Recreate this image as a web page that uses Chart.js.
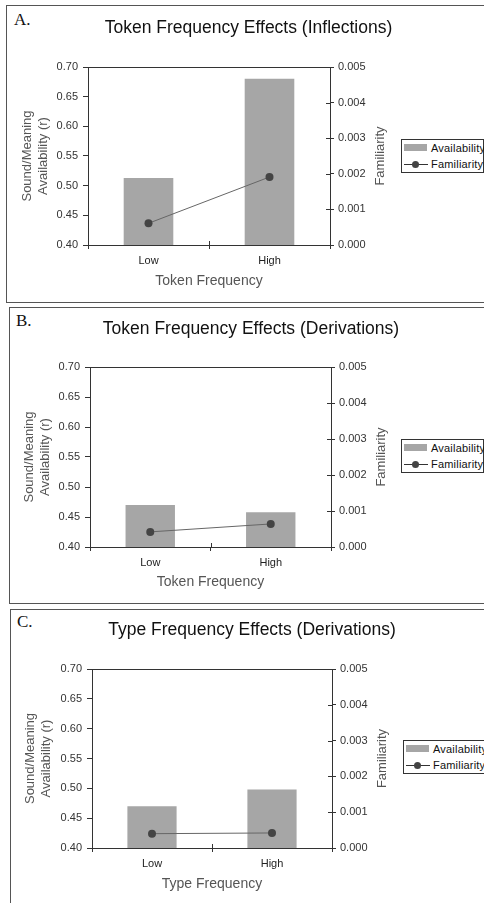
<!DOCTYPE html>
<html>
<head>
<meta charset="utf-8">
<script src="https://cdn.jsdelivr.net/npm/chart.js@4/dist/chart.umd.min.js"></script>
<style>
  body { margin: 0; width: 484px; height: 903px; overflow: hidden; position: relative; background: #fff; font-family: "Liberation Sans", Arial, sans-serif; }
  .panel { position: absolute; border: 1px solid #555; }
  .tag { position: absolute; font-family: "Liberation Serif", "Times New Roman", serif; font-size: 17px; line-height: 17px; color: #111; }
  canvas { position: absolute; }
  .legend { position: absolute; width: 81px; height: 32px; border: 1px solid #333; background: #fff; }
  .legend .sw { position: absolute; left: 2px; top: 4px; width: 23px; height: 7px; background: #a6a6a6; }
  .legend .ln { position: absolute; left: 2px; top: 24px; width: 24px; height: 1px; background: #333; }
  .legend .dot { position: absolute; left: 10px; top: 21px; width: 7px; height: 7px; border-radius: 50%; background: #444; }
  .legend span { position: absolute; left: 29px; font-size: 11px; line-height: 11px; color: #111; white-space: nowrap; letter-spacing: 0.2px; }
</style>
</head>
<body>
<div class="panel" style="left:6px;top:5px;width:520px;height:296px"></div>
<div class="panel" style="left:9px;top:307px;width:520px;height:295px"></div>
<div class="panel" style="left:10px;top:609px;width:520px;height:293px"></div>
<div class="tag" style="left:14px;top:11px">A.</div>
<div class="tag" style="left:16px;top:312px">B.</div>
<div class="tag" style="left:17px;top:613px">C.</div>
<canvas id="chartA" width="471" height="296" style="left:13px;top:6px"></canvas>
<canvas id="chartB" width="466" height="295" style="left:18px;top:308px"></canvas>
<canvas id="chartC" width="464" height="292" style="left:20px;top:610px"></canvas>
<script>
// data
const categories = ["Low", "High"];
const availabilityA = [0.513, 0.680];
const familiarityA = [0.00061, 0.00191];
const availabilityB = [0.470, 0.458];
const familiarityB = [0.00042, 0.00064];
const availabilityC = [0.470, 0.498];
const familiarityC = [0.00040, 0.00042];

const leftAxis = { min: 0.40, max: 0.70, step: 0.05 };
const rightAxis = { min: 0, max: 0.005, step: 0.001 };

const FONT = '"Liberation Sans", Arial, sans-serif';
Chart.defaults.font.family = FONT;

// top frame line, inner tick marks and the right axis title
const framePlugin = {
  id: "frame",
  afterDraw(chart) {
    const { ctx, chartArea: a, scales } = chart;
    ctx.save();
    ctx.strokeStyle = "#333";
    ctx.lineWidth = 1;
    ctx.beginPath();
    ctx.moveTo(a.left, Math.round(a.top) + 0.5);
    ctx.lineTo(a.right, Math.round(a.top) + 0.5);
    scales.y1.ticks.forEach(t => {
      const y = Math.round(scales.y1.getPixelForValue(t.value)) + 0.5;
      ctx.moveTo(a.right - 4, y);
      ctx.lineTo(a.right, y);
    });
    const mid = Math.round((scales.x.getPixelForValue(0) + scales.x.getPixelForValue(1)) / 2) + 0.5;
    ctx.moveTo(mid, a.bottom - 4);
    ctx.lineTo(mid, a.bottom);
    ctx.stroke();
    ctx.fillStyle = "#555";
    ctx.font = "13px " + FONT;
    ctx.translate(a.right + 50, (a.top + a.bottom) / 2);
    ctx.rotate(-Math.PI / 2);
    ctx.textAlign = "center";
    ctx.textBaseline = "middle";
    ctx.fillText("Familiarity", 0, 0);
    ctx.restore();
  }
};

function makeLegend(left, top) {
  const box = document.createElement("div");
  box.className = "legend";
  box.style.left = left + "px";
  box.style.top = top + "px";
  box.innerHTML = '<div class="sw"></div><span style="top:3px">Availability</span>' +
    '<div class="ln"></div><div class="dot"></div><span style="top:19px">Familiarity</span>';
  document.body.appendChild(box);
}

function makeChart(id, title, xTitle, avail, fam, lay) {
  const cv = document.getElementById(id);
  return new Chart(cv, {
    data: {
      labels: categories,
      datasets: [
        {
          type: "line", label: "Familiarity", data: fam, yAxisID: "y1", order: 0,
          borderColor: "#666", borderWidth: 1,
          pointRadius: 4, pointBackgroundColor: "#444", pointBorderColor: "#444", pointBorderWidth: 0
        },
        {
          type: "bar", label: "Availability", data: avail, yAxisID: "y", order: 1,
          backgroundColor: "#a6a6a6", barPercentage: 0.41, categoryPercentage: 1
        }
      ]
    },
    options: {
      responsive: false,
      animation: false,
      layout: { padding: 0 },
      plugins: {
        legend: { display: false },
        tooltip: { enabled: false },
        title: {
          display: true, text: title, color: "#111",
          font: { size: 17.5, weight: "normal", lineHeight: 1.2 },
          padding: { top: lay.titleTop, bottom: lay.titleBottom }
        }
      },
      scales: {
        x: {
          grid: { drawOnChartArea: false, tickLength: 4, color: "#333" },
          border: { color: "#333" },
          ticks: { color: "#222", font: { size: 11 }, padding: 5 },
          title: { display: true, text: xTitle, color: "#555", font: { size: 14, lineHeight: 1.2 }, padding: { top: 0, bottom: lay.xTitlePad } },
          afterFit(s) { s.height = lay.xHeight; }
        },
        y: {
          position: "left", min: leftAxis.min, max: leftAxis.max,
          grid: { drawOnChartArea: false, tickLength: 5, color: "#333" },
          border: { color: "#333" },
          ticks: { stepSize: leftAxis.step, color: "#333", font: { size: 11 }, padding: 5, callback: v => v.toFixed(2) },
          title: { display: true, text: ["Sound/Meaning", "Availability (r)"], color: "#555", font: { size: 13, lineHeight: 1.23 }, padding: { top: lay.yTitlePad, bottom: 0 } },
          afterFit(s) { s.width = lay.left; }
        },
        y1: {
          position: "right", min: rightAxis.min, max: rightAxis.max,
          grid: { drawOnChartArea: false, tickLength: 4, color: "#333" },
          border: { color: "#333" },
          ticks: { stepSize: rightAxis.step, color: "#333", font: { size: 11 }, padding: 4, callback: v => v.toFixed(3) },
          afterFit(s) { s.width = lay.rightWidth; }
        }
      }
    },
    plugins: [framePlugin]
  });
}

makeChart("chartA", "Token Frequency Effects (Inflections)", "Token Frequency", availabilityA, familiarityA,
  { titleTop: 12, titleBottom: 28, left: 75, rightWidth: 154, xHeight: 57, xTitlePad: 12.6, yTitlePad: 6 });
makeChart("chartB", "Token Frequency Effects (Derivations)", "Token Frequency", availabilityB, familiarityB,
  { titleTop: 11, titleBottom: 27, left: 72, rightWidth: 153, xHeight: 56, xTitlePad: 12.6, yTitlePad: 3 });
makeChart("chartC", "Type Frequency Effects (Derivations)", "Type Frequency", availabilityC, familiarityC,
  { titleTop: 10, titleBottom: 28, left: 72, rightWidth: 152, xHeight: 54, xTitlePad: 9.6, yTitlePad: 2 });

makeLegend(401, 139);
makeLegend(401, 439);
makeLegend(403, 740);
</script>
</body>
</html>
